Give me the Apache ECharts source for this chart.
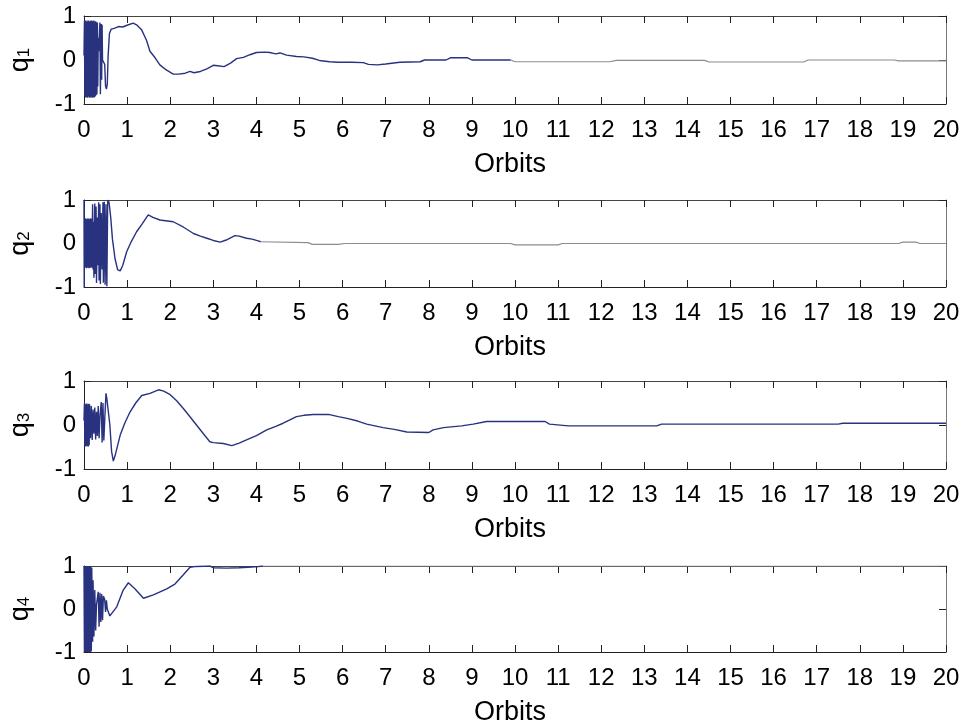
<!DOCTYPE html>
<html>
<head>
<meta charset="utf-8">
<script src="https://cdn.jsdelivr.net/npm/echarts@6/dist/echarts.min.js"></script>
<style>
  html, body { margin: 0; padding: 0; background: #fff; }
  #chart { width: 968px; height: 724px; }
</style>
</head>
<body>
<div id="chart"></div>
<script>
// Quaternion components q1..q4 versus orbit number, [orbit, value] pairs
const q1 = [
  [0,0.1],[0.01,0.88],[0.02,-0.82],[0.03,0.9],[0.04,-0.85],[0.05,0.87],[0.06,-0.84],[0.07,0.9],
  [0.08,-0.86],[0.09,0.88],[0.10,-0.83],[0.11,0.9],[0.12,-0.85],[0.13,0.87],[0.14,-0.86],[0.15,0.89],
  [0.16,-0.84],[0.17,0.9],[0.18,-0.85],[0.19,0.88],[0.20,-0.86],[0.21,0.89],[0.22,-0.84],[0.23,0.9],
  [0.24,-0.85],[0.25,0.87],[0.26,-0.83],[0.27,0.88],[0.28,-0.8],[0.29,0.86],[0.30,-0.78],[0.31,0.85],
  [0.32,-0.6],[0.33,0.5],[0.34,0.2],[0.37,0.85],[0.38,-0.78],[0.40,0.82],[0.41,-0.45],[0.42,0.8],
  [0.43,0.0],[0.46,0.0],[0.48,-0.1],[0.50,-0.6],[0.52,-0.66],[0.54,-0.55],[0.56,0.1],[0.59,0.6],
  [0.63,0.7],[0.7,0.72],[0.8,0.76],[0.9,0.75],[1.0,0.79],[1.14,0.84],[1.22,0.8],[1.34,0.68],
  [1.45,0.45],[1.53,0.2],[1.65,0.05],[1.76,-0.11],[1.9,-0.22],[2.07,-0.32],[2.2,-0.32],[2.35,-0.3],
  [2.46,-0.26],[2.55,-0.29],[2.7,-0.26],[2.85,-0.2],[3.0,-0.12],[3.1,-0.13],[3.25,-0.15],[3.4,-0.07],
  [3.54,0.03],[3.7,0.06],[3.85,0.12],[4.0,0.17],[4.2,0.18],[4.31,0.17],[4.45,0.14],[4.55,0.16],
  [4.7,0.11],[4.93,0.08],[5.1,0.07],[5.3,0.04],[5.46,-0.01],[5.7,-0.04],[5.9,-0.05],[6.2,-0.05],
  [6.48,-0.06],[6.6,-0.1],[6.8,-0.11],[7.0,-0.09],[7.33,-0.05],[7.8,-0.04],[7.9,0.0],[8.4,0.0],
  [8.5,0.05],[8.9,0.05],[9.0,0.0],[9.9,0.0],[10.0,-0.04],[12.2,-0.04],[12.35,-0.01],[14.4,-0.01],
  [14.5,-0.045],[16.7,-0.045],[16.8,0.0],[18.8,0.0],[18.9,-0.02],[20,-0.02]
];
const q2 = [
  [0,1],[0.005,-1],[0.01,0.57],[0.02,-0.56],[0.03,0.58],[0.04,-0.55],[0.05,0.57],[0.06,-0.57],
  [0.07,0.56],[0.08,-0.55],[0.09,0.58],[0.10,-0.56],[0.11,0.57],[0.12,-0.57],[0.13,0.56],[0.14,-0.55],
  [0.15,0.58],[0.16,-0.56],[0.17,0.57],[0.18,-0.55],[0.20,0.9],[0.21,-0.6],[0.22,0.5],[0.23,-0.79],
  [0.25,0.92],[0.26,-0.7],[0.28,0.85],[0.29,-0.91],[0.31,0.6],[0.32,-0.5],[0.34,0.95],[0.35,-0.85],
  [0.37,0.9],[0.38,-0.93],[0.40,0.7],[0.42,-0.6],[0.44,0.95],[0.45,-0.9],[0.47,0.96],[0.49,-0.95],
  [0.51,0.9],[0.53,-0.98],[0.55,1.0],[0.58,0.95],[0.62,0.6],[0.66,0.1],[0.72,-0.35],[0.78,-0.6],
  [0.84,-0.63],[0.9,-0.5],[0.99,-0.19],[1.1,0.05],[1.22,0.27],[1.35,0.45],[1.49,0.66],[1.6,0.6],
  [1.76,0.54],[2.07,0.5],[2.3,0.38],[2.54,0.23],[2.7,0.17],[2.85,0.12],[3.0,0.07],[3.16,0.03],
  [3.3,0.08],[3.5,0.18],[3.6,0.17],[3.77,0.12],[3.9,0.1],[4.04,0.06],[4.1,0.04],[5.2,0.02],
  [5.3,-0.02],[5.9,-0.02],[6.05,0.0],[9.9,0.0],[10.0,-0.03],[11.0,-0.03],[11.1,0.0],[18.9,0.0],
  [19.0,0.03],[19.3,0.03],[19.4,0.0],[20,0.0]
];
const q3 = [
  [0,0.1],[0.01,0.49],[0.02,-0.48],[0.03,0.47],[0.04,-0.49],[0.05,0.48],[0.06,-0.47],[0.07,0.49],
  [0.08,-0.48],[0.09,0.46],[0.10,-0.49],[0.11,0.48],[0.12,-0.46],[0.13,0.47],[0.15,-0.3],[0.17,0.43],
  [0.19,-0.34],[0.21,0.35],[0.23,-0.2],[0.25,0.4],[0.27,-0.33],[0.29,0.3],[0.31,-0.25],[0.33,0.43],
  [0.35,-0.3],[0.37,0.2],[0.40,0.52],[0.42,-0.4],[0.44,0.5],[0.46,-0.35],[0.48,0.1],[0.51,0.72],
  [0.53,0.6],[0.55,0.6],[0.6,0.0],[0.64,-0.6],[0.68,-0.82],[0.72,-0.7],[0.84,-0.23],[0.95,0.05],
  [1.07,0.3],[1.2,0.5],[1.34,0.67],[1.53,0.72],[1.73,0.8],[1.85,0.77],[2.0,0.69],[2.15,0.55],
  [2.3,0.38],[2.45,0.2],[2.61,0.0],[2.77,-0.2],[2.92,-0.38],[3.0,-0.4],[3.23,-0.42],[3.43,-0.47],
  [3.6,-0.41],[3.77,-0.34],[4.0,-0.24],[4.24,-0.11],[4.45,-0.03],[4.62,0.04],[4.8,0.13],[4.93,0.19],
  [5.1,0.22],[5.32,0.24],[5.67,0.24],[5.9,0.19],[6.1,0.15],[6.35,0.09],[6.56,0.02],[6.75,-0.02],
  [6.94,-0.06],[7.2,-0.1],[7.49,-0.16],[8.0,-0.17],[8.1,-0.11],[8.34,-0.06],[8.76,-0.02],[9.03,0.02],
  [9.34,0.08],[10.7,0.08],[10.8,0.02],[11.24,-0.02],[13.29,-0.02],[13.4,0.02],[17.5,0.02],[17.6,0.04],
  [20,0.04]
];
const q4 = [
  [0,1],[0.01,-1],[0.02,1],[0.03,-1],[0.04,1],[0.05,-1],[0.06,1],[0.07,-1],[0.08,1],[0.09,-1],
  [0.10,1],[0.11,-1],[0.12,1],[0.13,-1],[0.14,1],[0.15,-1],[0.16,0.98],[0.17,-0.98],[0.18,0.96],
  [0.20,-0.76],[0.21,0.67],[0.23,-0.64],[0.25,0.44],[0.27,-0.5],[0.29,0.1],[0.31,0.12],[0.33,0.4],
  [0.35,-0.41],[0.37,0.38],[0.39,-0.3],[0.41,0.35],[0.43,-0.26],[0.45,0.3],[0.48,0.22],[0.50,-0.07],
  [0.52,0.2],[0.54,0.0],[0.6,-0.16],[0.64,-0.14],[0.76,0.05],[0.91,0.44],[1.03,0.61],[1.18,0.47],
  [1.38,0.25],[1.61,0.33],[1.92,0.47],[2.11,0.58],[2.3,0.79],[2.46,0.97],[2.6,0.99],[2.92,1.0],
  [3.0,0.96],[3.3,0.95],[3.6,0.96],[3.8,0.97],[4.05,0.99],[4.15,1.0],[20,1.0]
];
const seriesData = [q1, q2, q3, q4];
const seriesNames = ['1', '2', '3', '4'];
// orbit after which each trace continues in the lighter ink
const fadeFrom = [9.9, 4.1, 20, 4.15];
const xTicks = { min: 0, max: 20, step: 1 };
const yTicks = { min: -1, max: 1, step: 1 };

const FONT = '"Liberation Sans", Arial, Helvetica, sans-serif';
const INK = '#28327f';
const FADED = '#8a8c96';
const gridBoxes = [
  { top: 16, height: 88 },
  { top: 200, height: 87 },
  { top: 381, height: 88 },
  { top: 566, height: 86 }
];

const grid = [], xAxis = [], yAxis = [], series = [];
gridBoxes.forEach((b, i) => {
  grid.push({
    left: 84, width: 862, top: b.top, height: b.height,
    containLabel: false, outerBoundsMode: 'none'
  });
  const tick = { show: true, inside: true, length: 7, lineStyle: { color: '#222', width: 1 } };
  xAxis.push({
    gridIndex: i, type: 'value', min: xTicks.min, max: xTicks.max, interval: xTicks.step,
    position: 'bottom',
    axisLine: { onZero: false, lineStyle: { color: '#222', width: 1 } },
    axisTick: tick,
    splitLine: { show: false },
    axisLabel: { fontSize: 24, color: '#000', fontFamily: FONT, margin: 14 },
    name: 'Orbits', nameLocation: 'middle', nameGap: 47,
    nameTextStyle: { fontSize: 27, color: '#000', fontFamily: FONT, padding: [0, 10, 0, 0] }
  });
  xAxis.push({
    gridIndex: i, type: 'value', min: xTicks.min, max: xTicks.max, interval: xTicks.step,
    position: 'top',
    axisLine: { onZero: false, lineStyle: { color: '#444', width: 1 } },
    axisTick: tick, axisLabel: { show: false }, splitLine: { show: false }
  });
  yAxis.push({
    gridIndex: i, type: 'value', min: yTicks.min, max: yTicks.max, interval: yTicks.step,
    position: 'left',
    axisLine: { onZero: false, lineStyle: { color: '#222', width: 1 } },
    axisTick: tick,
    splitLine: { show: false },
    axisLabel: { fontSize: 24, color: '#000', fontFamily: FONT, margin: 8 },
    name: '{q|q}{s|' + seriesNames[i] + '}',
    nameLocation: 'middle', nameRotate: 90, nameGap: 42,
    nameTextStyle: {
      color: '#000', fontFamily: FONT,
      rich: {
        q: { fontSize: 27, color: '#000', fontFamily: FONT, padding: [0, 0, 8, 0] },
        s: { fontSize: 17, color: '#000', fontFamily: FONT }
      }
    }
  });
  yAxis.push({
    gridIndex: i, type: 'value', min: yTicks.min, max: yTicks.max, interval: yTicks.step,
    position: 'right',
    axisLine: { onZero: false, lineStyle: { color: '#777', width: 1 } },
    axisTick: tick, axisLabel: { show: false }, splitLine: { show: false }
  });
  // dark part of the trace, then the lighter tail that shares its joining point
  const data = seriesData[i];
  const head = data.filter(p => p[0] <= fadeFrom[i]);
  const tail = data.filter(p => p[0] >= fadeFrom[i]);
  series.push({
    type: 'line', name: 'q' + seriesNames[i],
    xAxisIndex: 2 * i, yAxisIndex: 2 * i,
    data: head, showSymbol: false,
    lineStyle: { width: 1.4, color: INK }, itemStyle: { color: INK },
    emphasis: { disabled: true }
  });
  if (tail.length > 1) {
    series.push({
      type: 'line', name: 'q' + seriesNames[i] + ' tail',
      xAxisIndex: 2 * i, yAxisIndex: 2 * i,
      data: tail, showSymbol: false,
      lineStyle: { width: 1.2, color: FADED }, itemStyle: { color: FADED },
      emphasis: { disabled: true }
    });
  }
});

const chart = echarts.init(document.getElementById('chart'), null, { renderer: 'canvas' });
chart.setOption({
  animation: false,
  backgroundColor: '#fff',
  grid, xAxis, yAxis, series
});
</script>
</body>
</html>
